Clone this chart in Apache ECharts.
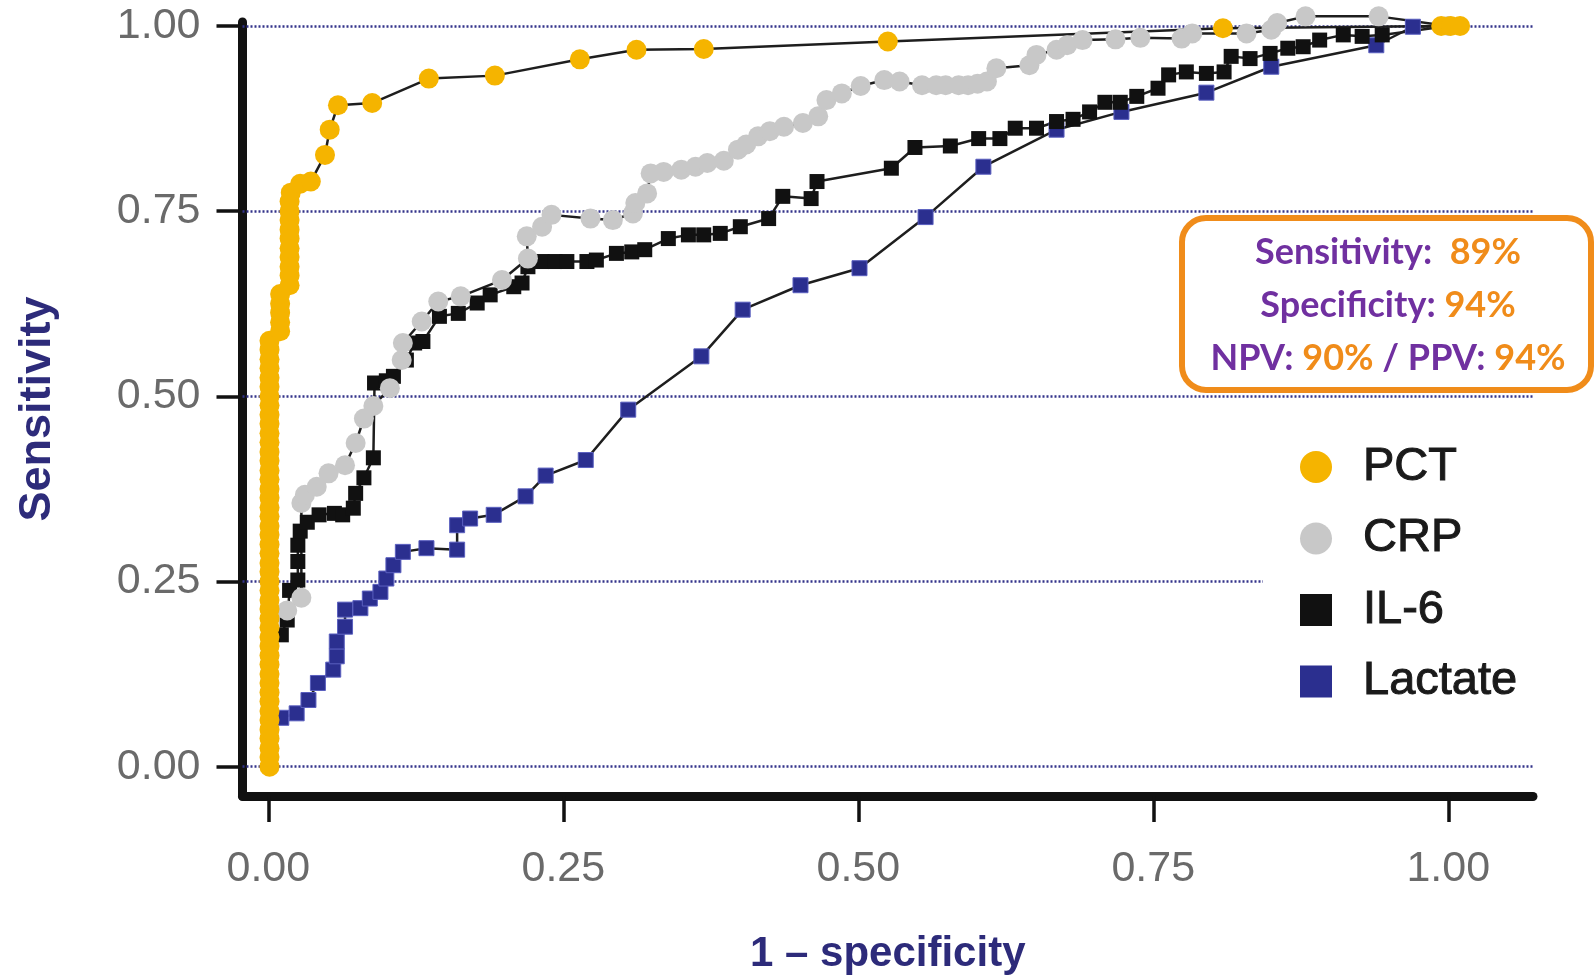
<!DOCTYPE html>
<html>
<head>
<meta charset="utf-8">
<title>ROC curves</title>
<script src="https://cdn.jsdelivr.net/npm/echarts@6/dist/echarts.min.js"></script>
<style>
  html, body { margin: 0; padding: 0; background: #fff; }
  #chart { width: 1594px; height: 975px; }
</style>
</head>
<body>
<div id="chart"></div>
<script>
// tick positions on both axes
const xTicks = [0, 0.25, 0.5, 0.75, 1];
const yTicks = [0, 0.25, 0.5, 0.75, 1];

// [1 - specificity, sensitivity]
const pct = [
  [0.001, 0.000], [0.001, 0.013], [0.001, 0.025], [0.001, 0.038], [0.001, 0.050], [0.001, 0.063],
  [0.001, 0.075], [0.001, 0.088], [0.001, 0.100], [0.001, 0.113], [0.001, 0.125], [0.001, 0.138],
  [0.001, 0.150], [0.001, 0.163], [0.001, 0.175], [0.001, 0.188], [0.001, 0.200], [0.001, 0.213],
  [0.001, 0.225], [0.001, 0.238], [0.001, 0.250], [0.001, 0.263], [0.001, 0.275], [0.001, 0.288],
  [0.001, 0.300], [0.001, 0.313], [0.001, 0.325], [0.001, 0.338], [0.001, 0.350], [0.001, 0.363],
  [0.001, 0.375], [0.001, 0.388], [0.001, 0.400], [0.001, 0.413], [0.001, 0.425], [0.001, 0.438],
  [0.001, 0.450], [0.001, 0.463], [0.001, 0.475], [0.001, 0.488], [0.001, 0.500], [0.001, 0.513],
  [0.001, 0.525], [0.001, 0.538], [0.001, 0.550], [0.001, 0.563], [0.001, 0.575],
  [0.010, 0.588], [0.010, 0.600], [0.010, 0.613], [0.010, 0.625], [0.010, 0.638],
  [0.018, 0.650], [0.018, 0.663], [0.018, 0.675], [0.018, 0.688], [0.018, 0.700], [0.018, 0.713],
  [0.018, 0.725], [0.018, 0.738], [0.018, 0.750], [0.018, 0.763], [0.019, 0.775],
  [0.027, 0.787], [0.036, 0.790], [0.048, 0.826], [0.052, 0.860], [0.059, 0.893], [0.088, 0.896],
  [0.136, 0.929], [0.192, 0.933], [0.264, 0.955], [0.312, 0.968], [0.369, 0.969], [0.525, 0.979],
  [0.809, 0.997], [0.994, 1.000], [1.002, 1.000], [1.010, 1.000]
];

const crp = [
  [0.016, 0.211], [0.028, 0.228], [0.028, 0.356], [0.031, 0.367], [0.041, 0.378], [0.051, 0.396],
  [0.065, 0.407], [0.074, 0.437], [0.081, 0.470], [0.089, 0.487], [0.103, 0.511], [0.113, 0.549],
  [0.114, 0.572], [0.130, 0.601], [0.144, 0.628], [0.163, 0.635], [0.198, 0.657], [0.220, 0.686],
  [0.219, 0.716], [0.232, 0.729], [0.240, 0.745], [0.273, 0.740], [0.292, 0.738], [0.309, 0.747],
  [0.311, 0.761], [0.321, 0.774], [0.324, 0.801], [0.335, 0.803], [0.350, 0.806], [0.362, 0.810],
  [0.372, 0.815], [0.386, 0.818], [0.398, 0.833], [0.405, 0.840], [0.415, 0.851], [0.425, 0.858],
  [0.437, 0.864], [0.453, 0.869], [0.466, 0.878], [0.473, 0.900], [0.486, 0.909], [0.502, 0.919],
  [0.522, 0.927], [0.535, 0.925], [0.554, 0.920], [0.566, 0.920], [0.574, 0.920], [0.585, 0.920],
  [0.593, 0.920], [0.601, 0.922], [0.609, 0.925], [0.617, 0.943], [0.645, 0.947], [0.651, 0.961],
  [0.668, 0.968], [0.677, 0.974], [0.690, 0.981], [0.718, 0.982], [0.739, 0.984], [0.774, 0.983],
  [0.783, 0.990], [0.829, 0.990], [0.850, 0.995], [0.855, 1.004], [0.879, 1.013], [0.941, 1.013],
  [1.000, 1.000]
];

const il6 = [
  [0.011, 0.178], [0.016, 0.198], [0.018, 0.238], [0.025, 0.252], [0.025, 0.277], [0.025, 0.299],
  [0.027, 0.318], [0.033, 0.330], [0.043, 0.340], [0.056, 0.342], [0.063, 0.340], [0.072, 0.349],
  [0.074, 0.369], [0.081, 0.390], [0.089, 0.417], [0.090, 0.518], [0.100, 0.521], [0.106, 0.527],
  [0.117, 0.549], [0.124, 0.572], [0.131, 0.574], [0.145, 0.608], [0.161, 0.612], [0.177, 0.626],
  [0.188, 0.637], [0.208, 0.648], [0.215, 0.653], [0.220, 0.675], [0.232, 0.682], [0.243, 0.682],
  [0.253, 0.682], [0.270, 0.682], [0.278, 0.684], [0.295, 0.693], [0.308, 0.695], [0.319, 0.698],
  [0.339, 0.713], [0.356, 0.718], [0.369, 0.718], [0.383, 0.720], [0.400, 0.729], [0.424, 0.740],
  [0.436, 0.770], [0.460, 0.767], [0.465, 0.790], [0.528, 0.808], [0.548, 0.836], [0.578, 0.838],
  [0.602, 0.848], [0.620, 0.848], [0.633, 0.862], [0.651, 0.862], [0.668, 0.871], [0.682, 0.874],
  [0.696, 0.884], [0.709, 0.897], [0.722, 0.897], [0.736, 0.905], [0.754, 0.916], [0.763, 0.934],
  [0.778, 0.938], [0.795, 0.936], [0.810, 0.938], [0.816, 0.959], [0.832, 0.956], [0.849, 0.963],
  [0.864, 0.970], [0.877, 0.972], [0.891, 0.981], [0.911, 0.988], [0.927, 0.986], [0.944, 0.988],
  [1.000, 1.000]
];

const lactate = [
  [0.011, 0.066], [0.024, 0.072], [0.034, 0.090], [0.042, 0.113], [0.055, 0.131], [0.058, 0.149],
  [0.058, 0.169], [0.065, 0.189], [0.065, 0.212], [0.078, 0.214], [0.086, 0.227], [0.095, 0.236],
  [0.100, 0.254], [0.106, 0.272], [0.114, 0.290], [0.134, 0.295], [0.160, 0.293], [0.160, 0.326],
  [0.171, 0.335], [0.191, 0.340], [0.218, 0.365], [0.235, 0.393], [0.269, 0.414], [0.305, 0.482],
  [0.367, 0.554], [0.402, 0.617], [0.451, 0.650], [0.501, 0.673], [0.557, 0.742], [0.606, 0.810],
  [0.668, 0.860], [0.723, 0.884], [0.795, 0.910], [0.850, 0.945], [0.939, 0.974], [0.970, 0.999],
  [1.000, 1.000]
];

const chart = echarts.init(document.getElementById('chart'));

const sans = 'Liberation Sans, Arial, Helvetica, sans-serif';
const boxFont = 'Lato, Open Sans, sans-serif';
const lineStyle = { color: '#1e1e1e', width: 2.5 };

function rocSeries(name, data, symbol, size, color, extra) {
  return Object.assign({
    name: name,
    type: 'line',
    data: data,
    symbol: symbol,
    symbolSize: size,
    showAllSymbol: true,
    clip: false,
    lineStyle: lineStyle,
    itemStyle: { color: color },
    emphasis: { disabled: true }
  }, extra || {});
}

const option = {
  animation: false,
  backgroundColor: '#fff',
  textStyle: { fontFamily: sans },
  grid: { left: 242.5, right: 61, top: 22, bottom: 179, containLabel: false, outerBoundsMode: 'none' },
  xAxis: {
    type: 'value',
    min: -0.0219,
    max: 1.0718,
    name: '1 – specificity',
    nameLocation: 'middle',
    nameGap: 137,
    nameTextStyle: { fontSize: 42, fontWeight: 'bold', color: '#2d2b7a', fontFamily: sans },
    axisLine: { onZero: false, lineStyle: { color: '#111', width: 9 } },
    axisTick: { customValues: xTicks, length: 26, lineStyle: { color: '#111', width: 3.5 } },
    axisLabel: {
      customValues: xTicks,
      formatter: v => v.toFixed(2),
      margin: 52,
      fontSize: 43,
      color: '#6a6a6a',
      fontFamily: sans
    },
    splitLine: { show: false }
  },
  yAxis: {
    type: 'value',
    min: -0.0396,
    max: 1.0054,
    name: 'Sensitivity',
    nameLocation: 'middle',
    nameRotate: 90,
    nameGap: 182,
    nameTextStyle: { fontSize: 45, fontWeight: 'bold', color: '#2d2b7a', fontFamily: sans },
    axisLine: { onZero: false, lineStyle: { color: '#111', width: 9 } },
    axisTick: { customValues: yTicks, length: 26, lineStyle: { color: '#111', width: 3.5 } },
    axisLabel: {
      customValues: yTicks,
      formatter: v => v.toFixed(2),
      margin: 42,
      fontSize: 43,
      color: '#6a6a6a',
      fontFamily: sans
    },
    splitLine: { show: false }
  },
  legend: {
    orient: 'vertical',
    left: 1263,
    top: 433,
    padding: [10, 40, 10, 37],
    backgroundColor: '#fff',
    itemWidth: 32,
    itemHeight: 32,
    itemGap: 23.5,
    selectedMode: false,
    itemStyle: { borderWidth: 0 },
    textStyle: {
      fontSize: 47,
      color: '#1a1a1a',
      fontFamily: sans,
      textBorderColor: '#1a1a1a',
      textBorderWidth: 1,
      padding: [0, 0, 0, 26]
    },
    data: [
      { name: 'PCT', icon: 'circle' },
      { name: 'CRP', icon: 'circle' },
      { name: 'IL-6', icon: 'rect' },
      { name: 'Lactate', icon: 'rect' }
    ]
  },
  graphic: [
    {
      type: 'rect',
      z: 20,
      shape: { x: 1182, y: 218, width: 409, height: 172, r: 24 },
      style: { fill: '#fff', stroke: '#f08c1a', lineWidth: 6 }
    },
    {
      type: 'text',
      z: 21,
      x: 1388,
      y: 305,
      style: {
        text: '{p|Sensitivity:\u00a0\u00a0}{o|89%}\n{p|Specificity:\u00a0}{o|94%}\n{p|NPV:\u00a0}{o|90%}{p|\u00a0/\u00a0PPV:\u00a0}{o|94%}',
        align: 'center',
        verticalAlign: 'middle',
        lineHeight: 53,
        rich: {
          p: { fill: '#7030a0', fontSize: 36, fontWeight: 'bold', fontFamily: boxFont, lineHeight: 53 },
          o: { fill: '#f08c1a', fontSize: 36, fontWeight: 'bold', fontFamily: boxFont, lineHeight: 53 }
        }
      }
    }
  ],
  series: [
    rocSeries('Lactate', lactate, 'rect', 15, '#2b2f8f', {
      itemStyle: { color: '#2b2f8f', borderColor: '#5a5fbf', borderWidth: 1 },
      markLine: {
        silent: true,
        z: 1,
        symbol: 'none',
        label: { show: false },
        lineStyle: { color: '#33338a', width: 2.5, type: [2, 2] },
        data: yTicks.map(v => ({ yAxis: v }))
      }
    }),
    rocSeries('IL-6', il6, 'rect', 15, '#111111'),
    rocSeries('CRP', crp, 'circle', 20, '#c8c8c8'),
    rocSeries('PCT', pct, 'circle', 20, '#f5b400')
  ]
};

chart.setOption(option);
</script>
</body>
</html>
